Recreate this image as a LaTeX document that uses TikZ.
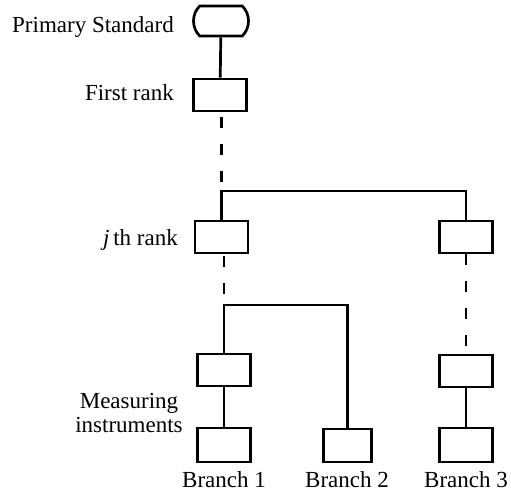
\documentclass[tikz,border=0pt]{standalone}
\usepackage{fontspec}
\setmainfont{Liberation Serif}
\usepackage{tikz}
\usetikzlibrary{shapes.misc}
\tikzset{
  rankbox/.style={draw, line width=2.7pt, minimum width=53pt, minimum height=32pt, inner sep=0pt},
  link/.style={line width=2.7pt},
  dashlink/.style={line width=2.7pt, dash pattern=on 10.5pt off 16.5pt},
  lbl/.style={font=\fontsize{23}{24}\selectfont, inner sep=0pt},
}

\begin{document}
\begin{tikzpicture}[x=1pt, y=-1pt]
    \useasboundingbox (0,0) rectangle (511,491);

    % standard and first rank
    \node[draw, line width=2.7pt, rounded rectangle, rounded rectangle arc length=90,
          minimum width=55pt, minimum height=30pt, inner sep=0pt] (prim) at (221,21) {};
    \node[rankbox] (first) at (220,95) {};
    \node[lbl, anchor=base east] (primlabel) at (174,32) {Primary Standard};
    \node[lbl, anchor=base east] (firstlabel) at (174,100) {First rank};

    % j-th rank
    \node[rankbox] (jleft) at (221.5,237) {};
    \node[rankbox] (jright) at (466,237) {};
    \node[lbl, anchor=base east] (jlabel) at (178,245.5) {\textit{j}\,th rank};

    % measuring instruments
    \node[rankbox] (mone) at (224,370) {};
    \node[rankbox] (mthree) at (466,371) {};
    \node[rankbox, minimum height=34pt] (bone) at (224,445) {};
    \node[rankbox, minimum width=48pt, minimum height=33pt] (btwo) at (347.5,445.5) {};
    \node[rankbox, minimum height=34pt] (bthree) at (466,445) {};
    \node[lbl, align=center] (mlabel) at (129,413) {Measuring\\instruments};

    \node[lbl, anchor=base] (brone) at (224,487) {Branch 1};
    \node[lbl, anchor=base] (brtwo) at (347,487) {Branch 2};
    \node[lbl, anchor=base] (brthree) at (466,487) {Branch 3};

    \coordinate (forkone) at (221.5,191);
    \coordinate (forktwo) at (224,305);

    \draw[link] (prim) -- (first);
    \draw[dashlink, dash phase=22pt] (first.south -| forkone) -- (forkone);
    \draw[link] (jleft.north) -- (forkone) -| (jright.north);
    \draw[dashlink, dash phase=25pt] (jleft.south -| forktwo) -- (forktwo);
    \draw[link] (mone.north) -- (forktwo) -| (btwo.north);
    \draw[dashlink] (jright) -- (mthree);
    \draw[link] (mone) -- (bone);
    \draw[link] (mthree) -- (bthree);
\end{tikzpicture}
\end{document}
